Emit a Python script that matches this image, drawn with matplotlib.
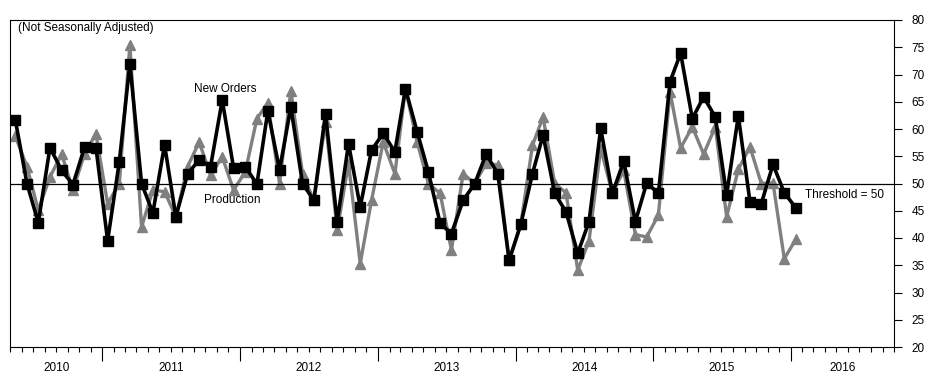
import matplotlib
matplotlib.use('Agg')
import matplotlib.pyplot as plt
import matplotlib.dates as mdates
import matplotlib.transforms as mtransforms
import pandas as pd

plt.rcParams['font.family'] = ['Liberation Sans', 'DejaVu Sans']

# monthly index values, May 2010 - Jan 2016 (not seasonally adjusted)
new_orders = [61.7, 50.0, 42.8, 56.6, 52.4, 49.8, 56.7, 56.6, 39.5, 54.0,
              72.0, 50.0, 44.6, 57.1, 43.9, 51.7, 54.4, 53.1, 65.3, 52.9,
              53.1, 49.9, 63.3, 52.5, 64.0, 50.0, 46.9, 62.8, 43.0, 57.3,
              45.7, 56.1, 59.2, 55.8, 67.4, 59.5, 52.1, 42.7, 40.8, 46.9,
              50.0, 55.4, 51.8, 35.9, 42.5, 51.8, 58.9, 48.2, 44.8, 37.2,
              43.0, 60.1, 48.2, 54.1, 43.0, 50.1, 48.2, 68.7, 73.9, 61.9,
              65.9, 62.2, 47.9, 62.4, 46.6, 46.3, 53.5, 48.3, 45.5]
production = [58.7, 53.1, 45.1, 51.2, 55.4, 48.8, 55.5, 59.1, 46.3, 50.0,
              75.4, 42.0, 48.8, 48.5, 43.9, 53.1, 57.6, 51.5, 54.9, 48.8,
              52.1, 61.9, 64.8, 50.0, 67.0, 51.8, 46.9, 61.3, 41.4, 53.7,
              35.3, 46.9, 57.6, 51.8, 67.4, 57.6, 50.0, 48.2, 37.8, 51.8,
              50.0, 53.7, 53.4, 35.9, 42.5, 57.0, 62.2, 50.0, 48.3, 34.1,
              39.5, 56.4, 48.2, 52.4, 40.6, 40.2, 44.2, 66.8, 56.5, 60.4,
              55.4, 60.4, 43.9, 52.6, 56.7, 50.0, 50.1, 36.2, 39.8]
years = [2010, 2011, 2012, 2013, 2014, 2015, 2016]
threshold = 50

months = pd.date_range('2010-05-01', periods=len(new_orders), freq='MS') + pd.Timedelta(days=14)
x_start = pd.Timestamp('2010-05-01')
x_end = pd.Timestamp('2016-10-01')

fig = plt.figure(figsize=(9.49, 3.83), dpi=100)
ax = fig.add_axes([10/949, 36/383, 884/949, 327/383])

ax.plot(months, production, color='#808080', lw=2.4, marker='^', ms=7.5, mec='#808080', mfc='#808080')
ax.plot(months, new_orders, color='black', lw=2.6, marker='s', ms=6.5)
ax.axhline(threshold, color='black', lw=0.9)

ax.set_ylim(20, 80)
ax.set_xlim(x_start, x_end)
ax.yaxis.tick_right()
ax.set_yticks(range(20, 81, 5))
ax.tick_params(axis='y', direction='out', length=5.5, width=0.8, labelsize=8.5, pad=7)

ax.xaxis.set_major_locator(mdates.YearLocator())
ax.xaxis.set_minor_locator(mdates.MonthLocator())
ax.xaxis.set_major_formatter(plt.NullFormatter())
ax.tick_params(axis='x', which='major', direction='out', length=10, width=0.8)
ax.tick_params(axis='x', which='minor', direction='out', length=3.5, width=0.8)
for sp in ax.spines.values():
    sp.set_linewidth(0.8)

# year labels centred on the visible part of each year
year_trans = mtransforms.blended_transform_factory(ax.transData, ax.transAxes)
for y in years:
    a = max(pd.Timestamp(f'{y}-01-01'), x_start)
    b = min(pd.Timestamp(f'{y + 1}-01-01'), x_end)
    mid = a + (b - a) / 2
    ax.text(mdates.date2num(mid), -0.064, str(y), transform=year_trans,
            ha='center', va='center', fontsize=8.5)

# annotations: x in axes fraction, y in data units
note_trans = mtransforms.blended_transform_factory(ax.transAxes, ax.transData)
ax.text(0.009, 78.5, '(Not Seasonally Adjusted)', transform=note_trans,
        ha='left', va='center', fontsize=8.5)
ax.text(0.243, 67.3, 'New Orders', transform=note_trans,
        ha='center', va='center', fontsize=8.5)
ax.text(0.251, 47.0, 'Production', transform=note_trans,
        ha='center', va='center', fontsize=8.5)
ax.text(0.899, 47.9, 'Threshold = 50', transform=note_trans,
        ha='left', va='center', fontsize=8.5)

fig.savefig('out.png', dpi=100)
